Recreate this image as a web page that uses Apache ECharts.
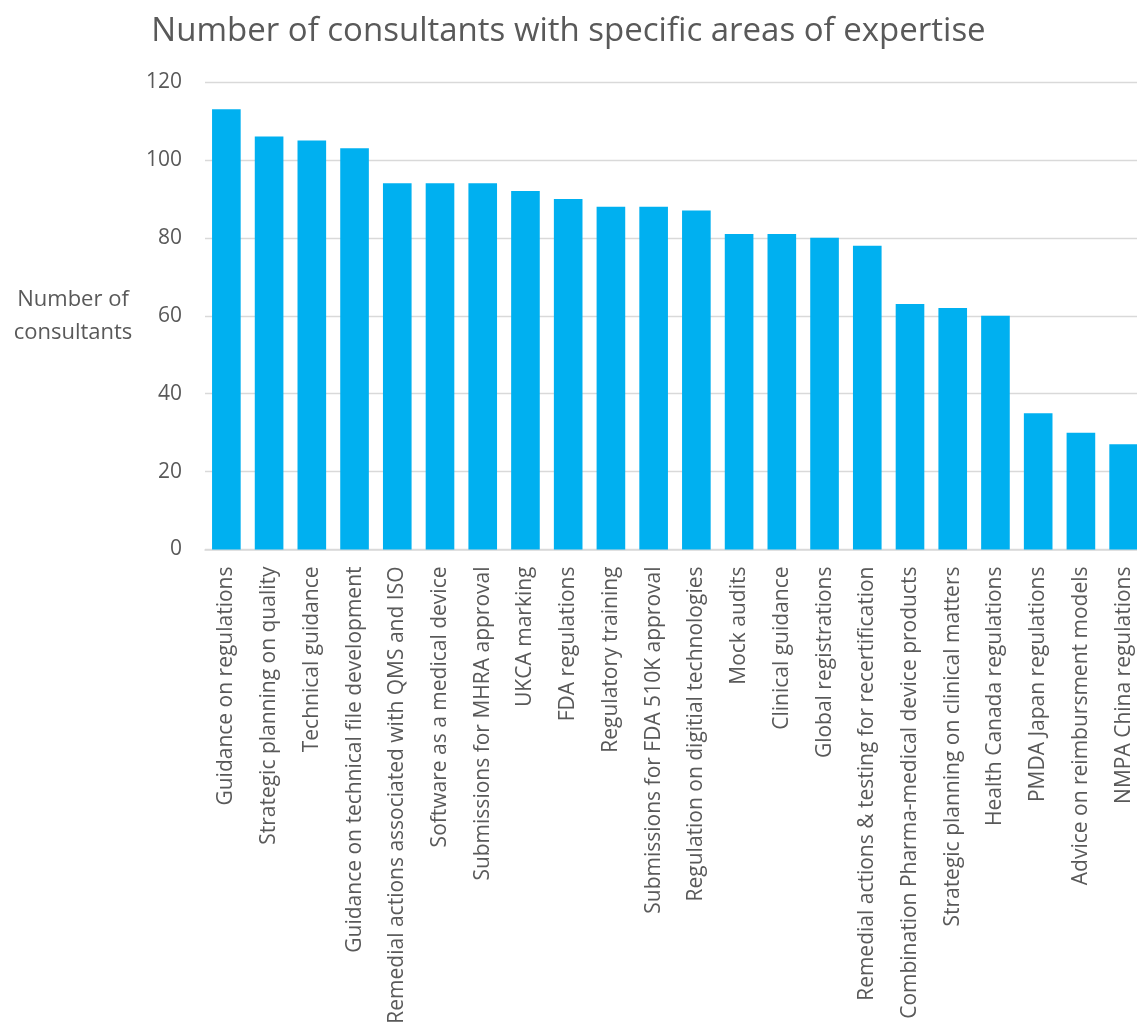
<!DOCTYPE html>
<html>
<head>
<meta charset="utf-8">
<script src="https://cdn.jsdelivr.net/npm/echarts@6/dist/echarts.min.js"></script>
<style>
  html, body { margin: 0; padding: 0; background: #fff; }
  #chart { width: 1137px; height: 1023px; }
</style>
</head>
<body>
<div id="chart"></div>
<script>
// Areas of expertise, in descending order of headcount
const areas = [
  'Guidance on regulations',
  'Strategic planning on quality',
  'Technical guidance',
  'Guidance on technical file development',
  'Remedial actions associated with QMS and ISO',
  'Software as a medical device',
  'Submissions for MHRA approval',
  'UKCA marking',
  'FDA regulations',
  'Regulatory training',
  'Submissions for FDA 510K approval',
  'Regulation on digitial technologies',
  'Mock audits',
  'Clinical guidance',
  'Global registrations',
  'Remedial actions & testing for recertification',
  'Combination Pharma-medical device products',
  'Strategic planning on clinical matters',
  'Health Canada regulations',
  'PMDA Japan regulations',
  'Advice on reimbursment models',
  'NMPA China regulations'
];

// Number of consultants per area
const consultants = [113, 106, 105, 103, 94, 94, 94, 92, 90, 88, 88, 87, 81, 81, 80, 78, 63, 62, 60, 35, 30, 27];

// Value axis range
const yMin = 0;
const yMax = 120;
const yStep = 20;

const FONT = '"Open Sans", "Noto Sans", sans-serif';
const TEXT = '#595959';

const chart = echarts.init(document.getElementById('chart'), null, { renderer: 'canvas' });

chart.setOption({
  animation: false,
  backgroundColor: '#ffffff',
  title: {
    text: 'Number of consultants with specific areas of expertise',
    left: 'center',
    top: 10,
    textStyle: { fontFamily: FONT, fontSize: 33, fontWeight: 'normal', color: TEXT }
  },
  grid: {
    left: 205, right: -8, top: 82, bottom: 473.5,
    containLabel: false,
    outerBoundsMode: 'none'
  },
  xAxis: {
    type: 'category',
    data: areas,
    axisLine: { show: true, lineStyle: { color: '#d9d9d9', width: 1.5 } },
    axisTick: { show: false },
    axisLabel: {
      interval: 0,
      rotate: 90,
      margin: 17,
      fontFamily: FONT,
      fontSize: 21,
      color: TEXT
    }
  },
  yAxis: {
    type: 'value',
    min: yMin,
    max: yMax,
    interval: yStep,
    name: 'Number of\nconsultants',
    nameLocation: 'middle',
    nameRotate: 0,
    nameGap: 132,
    nameTextStyle: {
      fontFamily: FONT, fontSize: 22, color: TEXT, align: 'center',
      lineHeight: 33, padding: [24, 0, 0, 0]
    },
    axisLine: { show: false },
    axisTick: { show: false },
    axisLabel: { margin: 23, fontFamily: FONT, fontSize: 21, color: TEXT },
    splitLine: { lineStyle: { color: '#d9d9d9', width: 1.3 } }
  },
  series: [{
    type: 'bar',
    data: consultants,
    barCategoryGap: '33%',
    itemStyle: { color: '#00B0F0' }
  }]
});
</script>
</body>
</html>
